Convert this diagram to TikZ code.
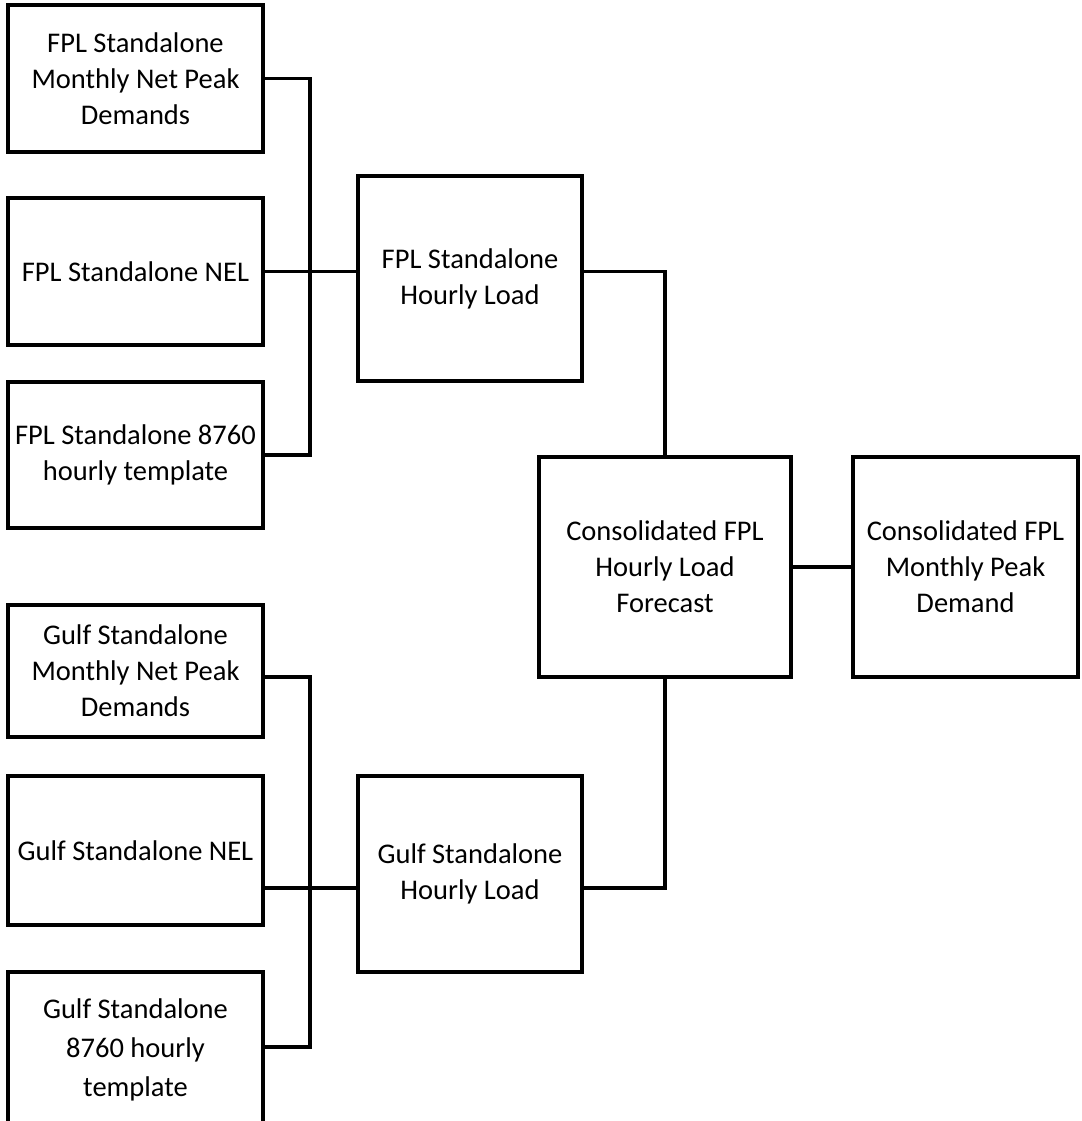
\documentclass[tikz,border=0pt]{standalone}
\usepackage{fontspec}
\setmainfont{Carlito}
\usepackage{tikz}
\usetikzlibrary{positioning, calc}
\newcommand{\boxfont}{\fontsize{28.5}{36}\selectfont}
\tikzset{
    flowbox/.style={rectangle, draw=black, line width=3.5pt, fill=white,
        inner sep=0pt, align=center, font=\boxfont},
    inputbox/.style={flowbox, minimum width=255pt},
    hourlybox/.style={flowbox, minimum width=224pt},
    consbox/.style={flowbox, minimum height=220pt},
    linkline/.style={line width=3.5pt, line cap=rect},
}

\begin{document}
\begin{tikzpicture}[x=1pt, y=-1pt]
    \useasboundingbox[fill=white] (0,0) rectangle (1081,1121);
    % FPL inputs
    \node[inputbox, minimum height=147pt] (fplpeak) at (135.5,78.5) {FPL Standalone\\Monthly Net Peak\\Demands};
    \node[inputbox, minimum height=147pt] (fplnel) at (135.5,271.5) {FPL Standalone NEL};
    \node[inputbox, minimum height=146pt] (fpltmpl) at (135.5,455) {FPL Standalone 8760\\hourly template};
    \node[hourlybox, minimum height=205pt] (fplhourly) at (470,278.5) {FPL Standalone\\Hourly Load};
    % Gulf inputs
    \node[inputbox, minimum height=132pt] (gulfpeak) at (135.5,671) {Gulf Standalone\\Monthly Net Peak\\Demands};
    \node[inputbox, minimum height=149pt] (gulfnel) at (135.5,850.5) {Gulf Standalone NEL};
    \node[inputbox, minimum height=156pt, font=\fontsize{28.5}{39}\selectfont] (gulftmpl) at (135.5,1050) {Gulf Standalone\\8760 hourly\\template};
    \node[hourlybox, minimum height=196pt] (gulfhourly) at (470,874) {Gulf Standalone\\Hourly Load};
    % consolidated
    \node[consbox, minimum width=252pt] (cons) at (665,567) {Consolidated FPL\\Hourly Load\\Forecast};
    \node[consbox, minimum width=225pt] (peak) at (965.5,567) {Consolidated FPL\\Monthly Peak\\Demand};

    \coordinate (bus) at (310,0);
    \coordinate (gpk) at ([yshift=-6pt]gulfpeak.east);
    \coordinate (gtp) at ([yshift=3pt]gulftmpl.east);
    \coordinate (gin) at ([yshift=-14pt]gulfhourly.west);

    \draw[linkline] (fplpeak.east) -| (bus |- fpltmpl.east) -- (fpltmpl.east);
    \draw[linkline] (fplnel.east) -- (fplnel.east -| fplhourly.west);
    \draw[linkline] (fplhourly.east |- fplnel.east) -| (cons.north);
    \draw[linkline] (gpk) -| (bus |- gtp) -- (gtp);
    \draw[linkline] (gin -| gulfnel.east) -- (gin);
    \draw[linkline] (gin -| gulfhourly.east) -| (cons.south);
    \draw[linkline] (cons.east) -- (peak.west);
\end{tikzpicture}
\end{document}
